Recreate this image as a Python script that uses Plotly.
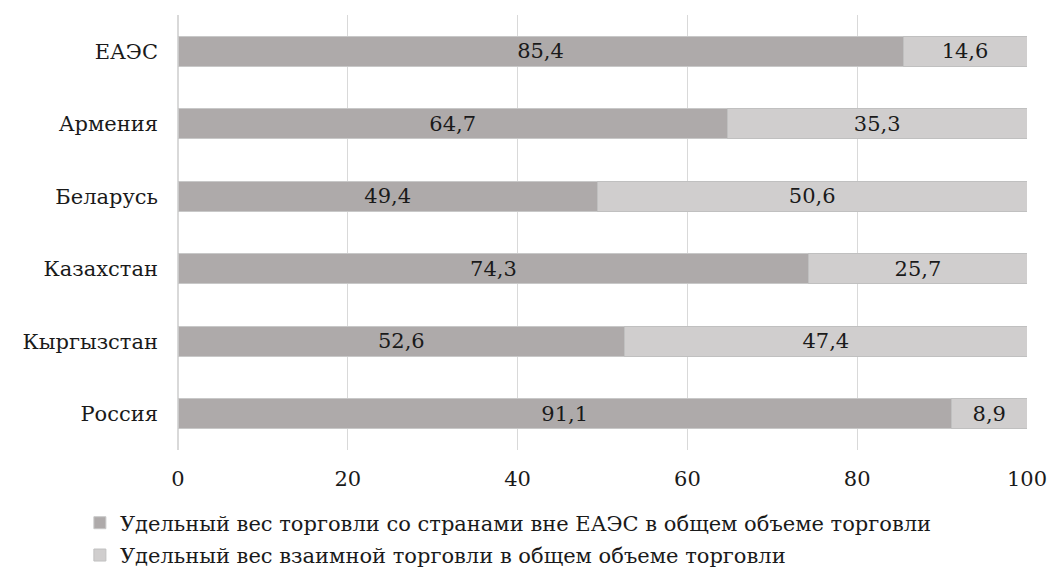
import plotly.graph_objects as go

categories = ["ЕАЭС", "Армения", "Беларусь", "Казахстан", "Кыргызстан", "Россия"]
outside_share = [85.4, 64.7, 49.4, 74.3, 52.6, 91.1]
mutual_share = [14.6, 35.3, 50.6, 25.7, 47.4, 8.9]
series_names = [
    "Удельный вес торговли со странами вне ЕАЭС в общем объеме торговли",
    "Удельный вес взаимной торговли в общем объеме торговли",
]
x_ticks = [0, 20, 40, 60, 80, 100]

FONT = "DejaVu Serif"
FS = 21

fig = go.Figure()
fig.add_trace(go.Bar(
    y=categories, x=outside_share, orientation="h", name=series_names[0],
    marker=dict(color="#AEAAAA", line=dict(color="#C8C8C8", width=1)),
    text=outside_share, texttemplate="%{x:.1f}", textposition="inside", textangle=0,
    insidetextanchor="middle", textfont=dict(family=FONT, size=FS, color="#1a1a1a"),
    legendgroup="a",
))
fig.add_trace(go.Bar(
    y=categories, x=mutual_share, orientation="h", name=series_names[1],
    marker=dict(color="#D0CECE", line=dict(color="#C0C0C0", width=1)),
    text=mutual_share, texttemplate="%{x:.1f}", textposition="inside", textangle=0,
    insidetextanchor="middle", textfont=dict(family=FONT, size=FS, color="#1a1a1a"),
    legendgroup="b",
))

fig.update_layout(
    barmode="stack",
    bargap=0.58,
    width=1051, height=577,
    margin=dict(l=178, r=24, t=15, b=127, autoexpand=False),
    plot_bgcolor="white", paper_bgcolor="white",
    separators=", ",
    font=dict(family=FONT, size=FS, color="#1a1a1a"),
    uniformtext=dict(mode="show", minsize=FS),
    showlegend=True,
    legend=dict(
        orientation="v", xref="container", yref="container",
        x=0.076, y=0.129, xanchor="left", yanchor="top",
        font=dict(family=FONT, size=FS, color="#1a1a1a"),
        tracegroupgap=2, itemwidth=30,
    ),
    xaxis=dict(
        range=[0, 100], tickvals=x_ticks, showgrid=True, gridcolor="#D9D9D9",
        gridwidth=1, zeroline=True, zerolinecolor="#D9D9D9", showline=False,
        ticks="", ticklabelstandoff=14, automargin=False,
    ),
    yaxis=dict(
        categoryorder="array", categoryarray=categories[::-1],
        showgrid=False, ticks="", ticklabelstandoff=19, automargin=False,
    ),
)

fig.write_html(
    "out.html",
    config={"displayModeBar": False},
    post_script="document.body.style.margin='0';document.body.style.overflow='hidden';",
)
